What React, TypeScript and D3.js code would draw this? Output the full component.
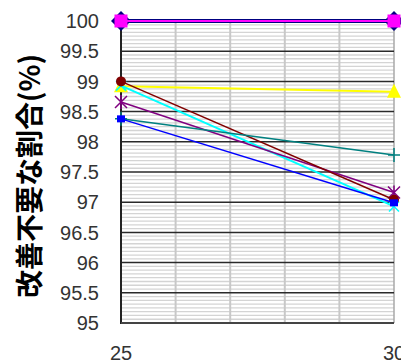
import React from "react";
import * as d3 from "d3";

// Years on the x axis (first and last survey)
const years = [25, 30];

// Share of cases needing no improvement (%), one series per group
const seriesNavy = [100, 100];
const seriesMagenta = [100, 100];
const seriesYellow = [98.92, 98.83];
const seriesCyan = [98.93, 96.93];
const seriesPurple = [98.66, 97.16];
const seriesDarkRed = [99.0, 97.04];
const seriesTeal = [98.38, 97.78];
const seriesBlue = [98.38, 96.99];

const yTicks = [95, 95.5, 96, 96.5, 97, 97.5, 98, 98.5, 99, 99.5, 100];
const xTicks = [25, 30];
const yTitle = "改善不要な割合(%)";

type Marker = "diamond" | "square" | "triangle" | "x" | "star" | "circle" | "plus" | "dash";

const series: { values: number[]; color: string; marker: Marker; width: number }[] = [
  { values: seriesNavy, color: "#000080", marker: "diamond", width: 4 },
  { values: seriesMagenta, color: "#ff00ff", marker: "square", width: 2 },
  { values: seriesYellow, color: "#ffff00", marker: "triangle", width: 2 },
  { values: seriesCyan, color: "#00ffff", marker: "x", width: 2 },
  { values: seriesPurple, color: "#800080", marker: "star", width: 1.5 },
  { values: seriesDarkRed, color: "#800000", marker: "circle", width: 1.5 },
  { values: seriesTeal, color: "#008080", marker: "plus", width: 1.5 },
  { values: seriesBlue, color: "#0000ff", marker: "dash", width: 1.5 },
];

const W = 401;
const H = 364;
const left = 121;
const right = 394;
const top = 21;
const bottom = 323;

function MarkerShape({ kind, cx, cy, color }: { kind: Marker; cx: number; cy: number; color: string }) {
  switch (kind) {
    case "diamond":
      return <path d={`M${cx},${cy - 10}L${cx + 10},${cy}L${cx},${cy + 10}L${cx - 10},${cy}Z`} fill={color} />;
    case "square":
      return <rect x={cx - 6.5} y={cy - 6.5} width={13} height={13} fill={color} />;
    case "triangle":
      return <path d={`M${cx},${cy - 8}L${cx + 7},${cy + 6}L${cx - 7},${cy + 6}Z`} fill={color} />;
    case "x":
      return (
        <path d={`M${cx - 5},${cy - 5}L${cx + 5},${cy + 5}M${cx + 5},${cy - 5}L${cx - 5},${cy + 5}`} stroke={color} strokeWidth={1.5} />
      );
    case "star":
      return (
        <path
          d={`M${cx - 6},${cy - 6}L${cx + 6},${cy + 6}M${cx + 6},${cy - 6}L${cx - 6},${cy + 6}M${cx},${cy - 7}L${cx},${cy + 7}`}
          stroke={color}
          strokeWidth={1.5}
        />
      );
    case "circle":
      return <circle cx={cx} cy={cy} r={5} fill={color} />;
    case "plus":
      return <path d={`M${cx - 6},${cy}L${cx + 6},${cy}M${cx},${cy - 7}L${cx},${cy + 7}`} stroke={color} strokeWidth={1.5} />;
    case "dash":
      return <rect x={cx - 4} y={cy - 3.5} width={8} height={7} fill={color} />;
  }
}

export default function App() {
  const x = d3.scaleLinear().domain([25, 30]).range([left, right]);
  const y = d3.scaleLinear().domain([95, 100]).range([bottom, top]);

  const minorTicks = d3.range(95, 100.0001, 0.5 / 8).filter((v) => Math.abs(v * 2 - Math.round(v * 2)) > 1e-6);
  const vGrid = d3.range(26, 30, 1);

  const line = d3
    .line<number>()
    .x((_, i) => x(years[i]))
    .y((d) => y(d));

  return (
    <svg width={W} height={H} style={{ position: "absolute", left: 0, top: 0, background: "#fff" }}>
      {/* minor horizontal grid */}
      {minorTicks.map((v) => (
        <line key={`m${v}`} x1={left} x2={right} y1={y(v)} y2={y(v)} stroke="#d4d4d4" strokeWidth={1.3} />
      ))}
      {/* vertical grid */}
      {vGrid.map((v) => (
        <line key={`v${v}`} x1={x(v)} x2={x(v)} y1={top} y2={bottom} stroke="#c8c8c8" strokeWidth={2} />
      ))}
      <line x1={right} x2={right} y1={top} y2={bottom} stroke="#a8a8a8" strokeWidth={1.5} />
      {/* major horizontal grid */}
      {yTicks.map((v) => (
        <line key={`M${v}`} x1={left} x2={right} y1={y(v)} y2={y(v)} stroke="#2a2a2a" strokeWidth={1.5} />
      ))}
      {/* axes */}
      <line x1={left} x2={left} y1={top} y2={bottom + 1} stroke="#222" strokeWidth={2} />
      <line x1={left} x2={right} y1={bottom} y2={bottom} stroke="#444" strokeWidth={2} />

      {/* tick labels */}
      {yTicks.map((v) => (
        <text
          key={`t${v}`}
          x={99}
          y={y(v)}
          dy="0.36em"
          textAnchor="end"
          fontFamily="Liberation Sans, Arial, sans-serif"
          fontSize={20}
          fill="#333"
        >
          {v}
        </text>
      ))}
      {xTicks.map((v) => (
        <text
          key={`x${v}`}
          x={x(v)}
          y={360}
          textAnchor="middle"
          fontFamily="Liberation Sans, Arial, sans-serif"
          fontSize={20}
          fill="#333"
        >
          {v}
        </text>
      ))}

      {/* series lines and markers */}
      {series.map((s, i) => (
        <g key={i}>
          <path d={line(s.values) ?? ""} fill="none" stroke={s.color} strokeWidth={s.width} />
          {s.values.map((v, j) => (
            <MarkerShape key={j} kind={s.marker} cx={x(years[j])} cy={y(v)} color={s.color} />
          ))}
        </g>
      ))}

      {/* y-axis title */}
      <text
        transform={`translate(28,176) rotate(-90)`}
        textAnchor="middle"
        dominantBaseline="central"
        fontFamily="Noto Sans CJK JP, sans-serif"
        fontWeight="bold"
        fontSize={28}
        fill="#000"
      >
        {yTitle}
      </text>
    </svg>
  );
}
